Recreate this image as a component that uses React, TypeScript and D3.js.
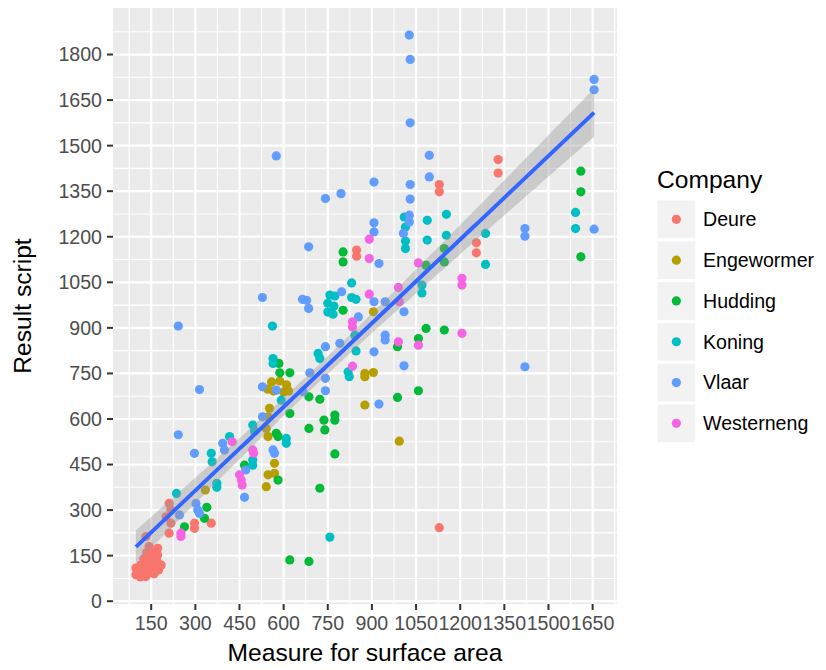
import React from 'react';
import * as d3 from 'd3';

type Pt = [number, number];

const companies = ['Deure', 'Engewormer', 'Hudding', 'Koning', 'Vlaar', 'Westerneng'];
const colors = ['#F8766D', '#B79F00', '#00BA38', '#00BFC4', '#619CFF', '#F564E3'];

// the bottom-left Deure blob is heavily overplotted, so it holds more rows than are visible
const deure: Pt[] = [
  [1129, 1372], [1129, 1348], [1329, 1454], [1329, 1410], [1255, 1180], [1255, 1147],
  [848, 1156], [848, 1136], [1129, 242], [211, 322], [217, 300], [200, 278], [217, 257],
  [211, 224], [297, 257], [297, 240], [354, 257], [132, 213], [143, 180], [172, 174],
  [154, 158], [172, 152], [137, 147], [126, 125], [154, 125], [98, 109], [98, 87],
  [132, 81], [175, 103], [120, 103], [184, 119], [113, 80],
  [105, 95], [115, 120], [128, 92], [140, 110], [150, 135], [160, 90], [165, 140],
  [120, 85], [135, 160], [110, 100], [145, 95], [158, 115], [170, 130], [125, 140],
];
const engewormer: Pt[] = [
  [905, 953], [876, 750], [905, 753], [876, 739], [876, 646], [993, 527], [559, 722],
  [587, 725], [610, 712], [566, 692], [600, 689], [546, 698], [617, 692], [552, 635],
  [547, 607], [541, 569], [547, 542], [569, 454], [547, 416], [569, 421], [541, 377], [334, 366],
];
const hudding: Pt[] = [
  [1610, 1416], [1610, 1348], [1610, 1134], [1146, 1161], [1146, 1117], [1084, 1106],
  [802, 1150], [802, 1117], [802, 958], [987, 838], [1058, 865], [1084, 898], [1146, 893],
  [987, 671], [1058, 693], [584, 783], [621, 752], [587, 752], [686, 673], [723, 665],
  [737, 596], [774, 613], [774, 596], [740, 564], [621, 618], [774, 485], [723, 372],
  [621, 136], [686, 131], [686, 569], [575, 553], [581, 542], [467, 448], [581, 399],
  [339, 309], [331, 273], [263, 245],
];
const koning: Pt[] = [
  [1592, 1280], [1592, 1227], [1153, 1274], [1153, 1205], [1088, 1254], [1088, 1189],
  [1286, 1211], [1286, 1109], [1010, 1265], [1014, 1232], [1014, 1186], [1014, 1161],
  [1070, 1041], [1070, 1015], [831, 1048], [831, 1000], [846, 994], [842, 876], [846, 824],
  [819, 755], [823, 739], [757, 1008], [774, 1005], [750, 981], [771, 972], [750, 952],
  [768, 945], [562, 906], [717, 816], [723, 799], [564, 799], [564, 783], [592, 662],
  [757, 211], [495, 580], [501, 560], [609, 536], [609, 520], [495, 465], [495, 448],
  [354, 487], [357, 459], [416, 542], [373, 388], [373, 375], [236, 355],
];
const vlaar: Pt[] = [
  [1027, 1864], [1030, 1784], [1030, 1575], [1095, 1468], [1095, 1397], [1030, 1372],
  [1030, 1324], [907, 1380], [575, 1466], [742, 1326], [795, 1342], [1655, 1718],
  [1655, 1684], [1027, 1271], [1027, 1249], [1007, 1211], [907, 1246], [907, 1216],
  [1655, 1225], [1420, 1227], [1420, 1202], [1420, 772], [924, 1112], [1009, 953],
  [797, 1019], [907, 986], [945, 986], [854, 936], [791, 849], [945, 876], [945, 860],
  [907, 821], [1009, 775], [924, 649], [685, 1167], [528, 1000], [664, 994], [678, 991],
  [685, 964], [242, 906], [742, 838], [689, 752], [742, 734], [742, 693], [528, 706],
  [575, 695], [666, 690], [528, 607], [314, 697], [242, 548], [297, 487], [393, 520],
  [399, 498], [471, 432], [467, 342], [564, 498], [569, 487], [302, 322], [308, 300],
  [314, 289], [246, 284],
];
const westerneng: Pt[] = [
  [891, 1192], [891, 1128], [1058, 1114], [1206, 1063], [1206, 1041], [990, 1033],
  [993, 986], [891, 1011], [834, 920], [834, 903], [990, 854], [1058, 843], [1206, 882],
  [834, 774], [425, 525], [495, 498], [498, 487], [450, 416], [456, 399], [459, 383],
  [251, 224], [251, 213],
];

const xTicks = [150, 300, 450, 600, 750, 900, 1050, 1200, 1350, 1500, 1650];
const yTicks = [0, 150, 300, 450, 600, 750, 900, 1050, 1200, 1350, 1500, 1650, 1800];

const series = [deure, engewormer, hudding, koning, vlaar, westerneng];

const W = 826;
const H = 670;
const P = { left: 113, right: 617, top: 8, bottom: 604 };
const FONT = '"Liberation Sans", Arial, Helvetica, sans-serif';

function expand([a, b]: number[]) {
  const d = (b - a) * 0.05;
  return [a - d, b + d];
}

function minorOf(ticks: number[], dom: number[]) {
  const step = ticks[1] - ticks[0];
  const out: number[] = [];
  for (let t = ticks[0] - step / 2; t <= ticks[ticks.length - 1] + step / 2; t += step) {
    if (t >= dom[0] && t <= dom[1]) out.push(t);
  }
  return out;
}

// ordinary least squares with a 95% confidence band, like geom_smooth(method = "lm")
function fitLm(pts: Pt[]) {
  const n = pts.length;
  const mx = d3.mean(pts, (d) => d[0])!;
  const my = d3.mean(pts, (d) => d[1])!;
  const sxx = d3.sum(pts, (d) => (d[0] - mx) ** 2);
  const sxy = d3.sum(pts, (d) => (d[0] - mx) * (d[1] - my));
  const b = sxy / sxx;
  const a = my - b * mx;
  const ssr = d3.sum(pts, (d) => (d[1] - a - b * d[0]) ** 2);
  const s = Math.sqrt(ssr / (n - 2));
  const t = 1.97;
  const [x0, x1] = d3.extent(pts, (d) => d[0]) as number[];
  const grid = d3.range(80).map((i) => x0 + ((x1 - x0) * i) / 79);
  return grid.map((x) => {
    const yhat = a + b * x;
    const se = s * Math.sqrt(1 / n + (x - mx) ** 2 / sxx);
    return { x, y: yhat, lo: yhat - t * se, hi: yhat + t * se };
  });
}

export default function App() {
  const all = series.flat();
  const xDom = expand(d3.extent(all, (d) => d[0]) as number[]);
  const yDom = expand(d3.extent(all, (d) => d[1]) as number[]);
  const x = d3.scaleLinear().domain(xDom).range([P.left, P.right]);
  const y = d3.scaleLinear().domain(yDom).range([P.bottom, P.top]);

  const fit = fitLm(all);
  const band = d3
    .area<{ x: number; lo: number; hi: number }>()
    .x((d) => x(d.x))
    .y0((d) => y(d.lo))
    .y1((d) => y(d.hi));
  const line = d3
    .line<{ x: number; y: number }>()
    .x((d) => x(d.x))
    .y((d) => y(d.y));

  const xMinor = minorOf(xTicks, xDom);
  const yMinor = minorOf(yTicks, yDom);

  const legendX = 657;
  const legendY = 200;
  const keyStep = 40.8;

  return (
    <svg width={W} height={H} style={{ position: 'absolute', left: 0, top: 0, background: '#fff' }} fontFamily={FONT}>
      <rect x={P.left} y={P.top} width={P.right - P.left} height={P.bottom - P.top} fill="#ebebeb" />
      {xMinor.map((t) => (
        <line key={'xm' + t} x1={x(t)} x2={x(t)} y1={P.top} y2={P.bottom} stroke="#fff" strokeWidth={1.1} />
      ))}
      {yMinor.map((t) => (
        <line key={'ym' + t} x1={P.left} x2={P.right} y1={y(t)} y2={y(t)} stroke="#fff" strokeWidth={1.1} />
      ))}
      {xTicks.map((t) => (
        <line key={'xM' + t} x1={x(t)} x2={x(t)} y1={P.top} y2={P.bottom} stroke="#fff" strokeWidth={2.2} />
      ))}
      {yTicks.map((t) => (
        <line key={'yM' + t} x1={P.left} x2={P.right} y1={y(t)} y2={y(t)} stroke="#fff" strokeWidth={2.2} />
      ))}

      {series.map((pts, i) =>
        pts.map((d, j) => (
          <circle key={i + '-' + j} cx={x(d[0])} cy={y(d[1])} r={4.6} fill={colors[i]} />
        ))
      )}

      <path d={band(fit) ?? ''} fill="#999999" fillOpacity={0.4} />
      <path d={line(fit) ?? ''} fill="none" stroke="#3366FF" strokeWidth={4} />

      {xTicks.map((t) => (
        <g key={'xt' + t}>
          <line x1={x(t)} x2={x(t)} y1={P.bottom} y2={P.bottom + 6} stroke="#333" strokeWidth={2} />
          <text x={x(t)} y={630} textAnchor="middle" fontSize={19.6} fill="#4d4d4d">
            {t}
          </text>
        </g>
      ))}
      {yTicks.map((t) => (
        <g key={'yt' + t}>
          <line x1={P.left - 6} x2={P.left} y1={y(t)} y2={y(t)} stroke="#333" strokeWidth={2} />
          <text x={P.left - 11} y={y(t)} dy="0.35em" textAnchor="end" fontSize={19.6} fill="#4d4d4d">
            {t}
          </text>
        </g>
      ))}

      <text x={(P.left + P.right) / 2} y={661} textAnchor="middle" fontSize={24.6} fill="#000">
        Measure for surface area
      </text>
      <text
        transform={`translate(31,${(P.top + P.bottom) / 2}) rotate(-90)`}
        textAnchor="middle"
        fontSize={24.6}
        fill="#000"
      >
        Result script
      </text>

      <text x={legendX} y={188} fontSize={24.6} fill="#000">
        Company
      </text>
      {companies.map((c, i) => (
        <g key={c} transform={`translate(${legendX},${legendY + i * keyStep})`}>
          <rect x={0} y={0} width={38.7} height={38.7} fill="#f2f2f2" stroke="#fff" strokeWidth={1} />
          <circle cx={19.35} cy={19.35} r={4.6} fill={colors[i]} />
          <text x={46} y={19.35} dy="0.35em" fontSize={19.6} fill="#000">
            {c}
          </text>
        </g>
      ))}
    </svg>
  );
}
